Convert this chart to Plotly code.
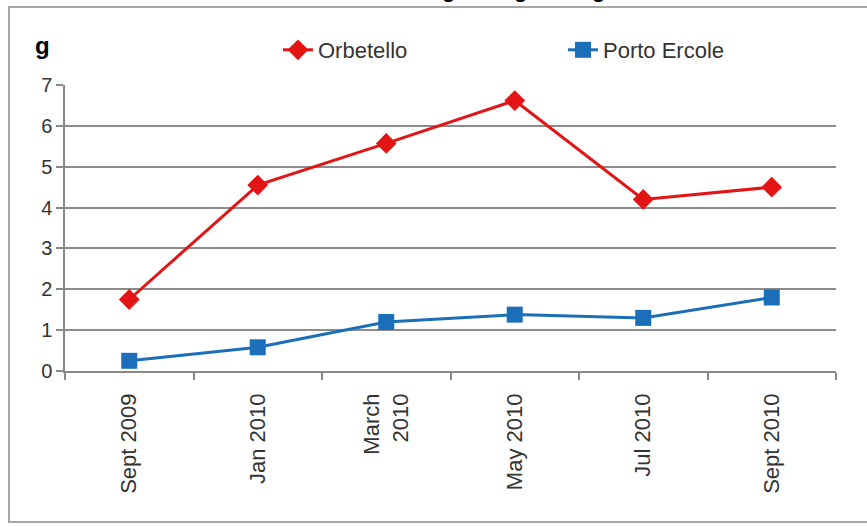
import plotly.graph_objects as go

# Sampling campaigns and mean weight (g) at each site
periods = ["Sept 2009", "Jan 2010", "March<br>2010", "May 2010", "Jul 2010", "Sept 2010"]
orbetello = [1.75, 4.55, 5.57, 6.62, 4.2, 4.5]
porto_ercole = [0.25, 0.58, 1.2, 1.38, 1.3, 1.8]
y_ticks = [0, 1, 2, 3, 4, 5, 6, 7]

W, H = 867, 527
L, R, T, B = 65, 31, 85, 156
plot_h = H - T - B
plot_w = W - L - R


def py(pix):
    """pixel row -> paper y"""
    return (H - B - pix) / plot_h


def px(pix):
    """pixel column -> paper x"""
    return (pix - L) / plot_w


fig = go.Figure()
fig.add_trace(go.Scatter(
    x=periods, y=orbetello, name="Orbetello", mode="lines+markers",
    line=dict(color="#E31414", width=3),
    marker=dict(symbol="diamond", size=16, color="#E31414"),
))
fig.add_trace(go.Scatter(
    x=periods, y=porto_ercole, name="Porto Ercole", mode="lines+markers",
    line=dict(color="#1B6FB8", width=3),
    marker=dict(symbol="square", size=16, color="#1B6FB8"),
))

x_font = dict(family="Liberation Sans, Arial, sans-serif", size=22, color="#333333")
y_font = dict(family="Liberation Sans, Arial, sans-serif", size=20, color="#333333")

fig.update_xaxes(
    type="category", range=[-0.5, 5.5], tickangle=-90,
    tickson="boundaries", ticks="outside", ticklen=7, tickcolor="#888888", tickwidth=1.5,
    ticklabelstandoff=12,
    showline=True, linecolor="#888888", linewidth=1.5,
    showgrid=False, tickfont=x_font, fixedrange=True,
)
fig.update_yaxes(
    range=[0, 7], tickvals=y_ticks, ticks="outside", ticklen=7,
    tickcolor="#888888", tickwidth=1.5,
    showline=True, linecolor="#888888", linewidth=1.5,
    showgrid=True, gridcolor="#8C8C8C", gridwidth=1.5,
    zeroline=False, tickfont=y_font, fixedrange=True,
)

fig.update_layout(
    width=W, height=H,
    margin=dict(l=L, r=R, t=T, b=B),
    paper_bgcolor="white", plot_bgcolor="white",
    showlegend=True,
    legend=dict(
        orientation="h", x=px(278), y=py(50), xanchor="left", yanchor="middle",
        font=dict(family="Liberation Sans, Arial, sans-serif", size=22, color="#333333"),
        entrywidth=240, entrywidthmode="pixels", bgcolor="rgba(0,0,0,0)",
    ),
)

# y-axis unit label
fig.add_annotation(
    text="<b>g</b>", xref="paper", yref="paper", x=px(42), y=py(45),
    xanchor="center", yanchor="middle", showarrow=False,
    font=dict(family="Liberation Sans, Arial, sans-serif", size=24, color="black"),
)

# chart title sitting above the frame (only its lower edge is on the page)
for gx in [448, 520, 607]:
    fig.add_annotation(
        text="<b>g</b>", xref="paper", yref="paper", x=px(gx), y=py(4),
        yanchor="bottom", showarrow=False,
        font=dict(family="Liberation Sans, Arial, sans-serif", size=22, color="black"),
    )

# outer chart frame
fig.add_shape(
    type="rect", xref="paper", yref="paper",
    x0=px(9), x1=px(880), y0=py(522), y1=py(7),
    line=dict(color="#A6A6A6", width=2), fillcolor="rgba(0,0,0,0)", layer="below",
)

fig.write_html("out.html")
